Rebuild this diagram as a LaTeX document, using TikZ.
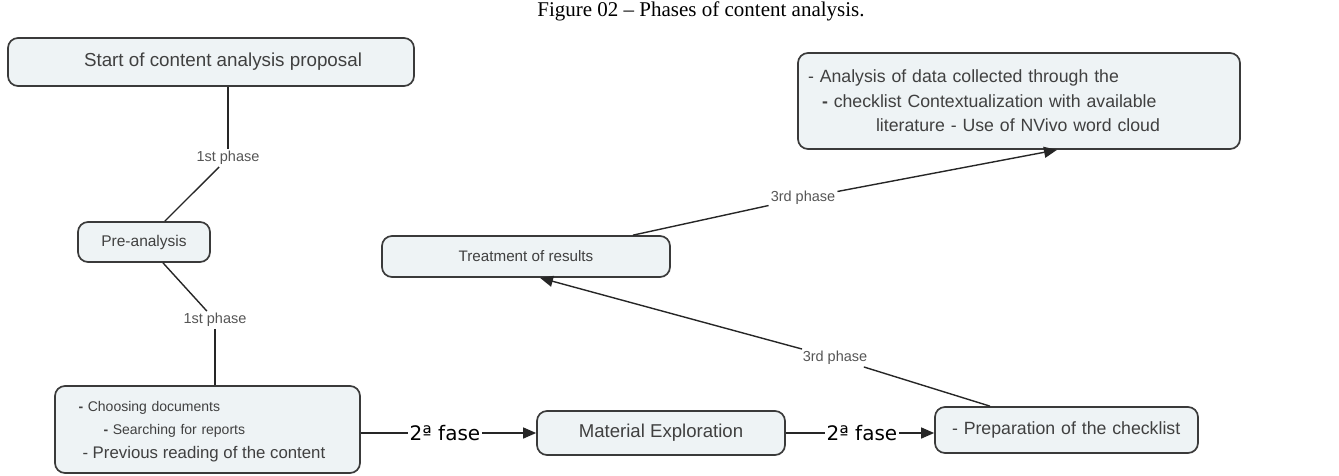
\documentclass[tikz,border=0pt]{standalone}
\usepackage{fontspec}
\setmainfont{Liberation Serif}
\newfontfamily\arialf{Liberation Sans}
\newfontfamily\dejavuf{DejaVu Sans}
\usetikzlibrary{arrows.meta,calc}
\definecolor{boxfill}{HTML}{EEF3F5}
\definecolor{boxline}{HTML}{3A3A3A}
\definecolor{boxtext}{HTML}{404040}
\definecolor{lbltext}{HTML}{555555}
\tikzset{
  box/.style={draw=boxline, line width=1.7pt, rounded corners=10pt, fill=boxfill, text=boxtext, inner sep=0pt},
  lbl/.style={text=lbltext, inner sep=2pt, font=\arialf\fontsize{14.5}{16}\selectfont},
  fase/.style={text=black, inner sep=1.5pt, font=\dejavuf\fontsize{20}{22}\selectfont},
  conn/.style={draw=black!85, line width=1.4pt},
  arr/.style={conn, -{Triangle[length=13pt,width=11pt]}}
}
\begin{document}
\begin{tikzpicture}[x=1pt,y=-1pt]
\useasboundingbox (0,0) rectangle (1339,475);
\node[font=\fontsize{21}{23}\selectfont] (title) at (701,11) {Figure 02 -- Phases of content analysis.};

\node[box, minimum width=406pt, minimum height=48pt, font=\arialf\fontsize{18.8}{22}\selectfont] (start) at (211,62) {\hspace*{24pt}Start of content analysis proposal};
\node[box, minimum width=132pt, minimum height=40pt, font=\arialf\fontsize{15.5}{18}\selectfont] (pre) at (144,242) {Pre-analysis};
\node[box, minimum width=288pt, minimum height=41pt, font=\arialf\fontsize{15.2}{18}\selectfont] (treat) at (526,256.5) {Treatment of results};
\node[box, minimum width=442pt, minimum height=96pt, text width=422pt, inner xsep=10pt, align=left, font=\arialf\fontsize{17.7}{24.5}\selectfont] (tr) at (1019,101)
  {- Analysis of data collected through the\\
   \hspace*{14pt}\textbf{-} checklist Contextualization with available\\
   \hspace*{68pt}literature - Use of NVivo word cloud};
\node[box, minimum width=305pt, minimum height=87pt, text width=282pt, inner xsep=11.5pt, align=left, font=\arialf\fontsize{14}{23}\selectfont] (bl) at (207.5,429.5)
  {\rule{0pt}{15pt}\hspace*{12pt}\textbf{-} Choosing documents\\
   \hspace*{37pt}\textbf{-} Searching for reports\\[1pt]
   {\fontsize{16.8}{23}\selectfont\hspace*{16pt}- Previous reading of the content}};
\node[box, minimum width=248pt, minimum height=44pt, font=\arialf\fontsize{18.6}{22}\selectfont] (mat) at (661,433) {Material Exploration};
\node[box, minimum width=263pt, minimum height=46pt, text width=229pt, inner xsep=17pt, align=left, font=\arialf\fontsize{17.7}{22}\selectfont] (prep) at (1066.5,430) {- Preparation of the checklist};

\node[lbl] (l1) at (228,158) {1st phase};
\draw[conn] (l1 |- start.south) -- (l1.north);
\draw[conn] (l1) -- (pre);

\node[lbl] (l2) at (215,320) {1st phase};
\draw[conn] (pre) -- (l2);
\draw[conn] (l2) -- (l2 |- bl.north);

\node[fase] (f1) at (445,433) {2ª fase};
\draw[conn] (bl.east |- f1) -- (f1);
\draw[arr] (f1) -- (mat);

\node[fase] (f2) at (862,433) {2ª fase};
\draw[conn] (mat.east |- f2) -- (f2);
\draw[arr] (f2) -- (prep.west |- f2);

\node[lbl] (l3) at (835,358) {3rd phase};
\draw[conn] ([xshift=-76.5pt]prep.north) -- (l3);
\draw[arr] (l3) -- ([xshift=14pt]treat.south);

\node[lbl] (l4) at (803,198) {3rd phase};
\draw[conn] ([xshift=107pt]treat.north) -- (l4);
\draw[arr] (l4) -- ([xshift=38pt]tr.south);
\end{tikzpicture}
\end{document}
